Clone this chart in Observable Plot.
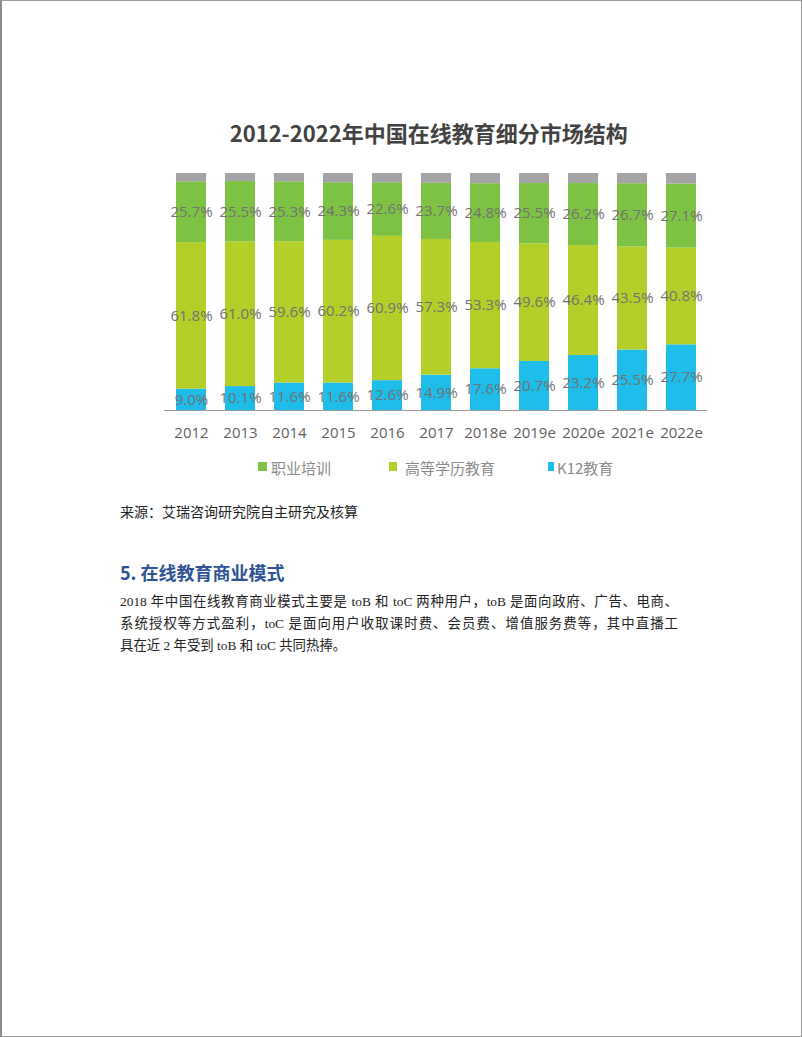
<!DOCTYPE html>
<html>
<head>
<meta charset="utf-8">
<script src="https://cdn.jsdelivr.net/npm/d3@7"></script>
<script src="https://cdn.jsdelivr.net/npm/@observablehq/plot@0.6"></script>
<style>
  html, body { margin: 0; padding: 0; background: #fff; }
  #page { position: relative; width: 802px; height: 1037px; box-sizing: border-box;
          border: 1px solid #9a9a9a; border-left: 2px solid #8a8a8a; overflow: hidden; }
  .abs { position: absolute; white-space: nowrap; }
  #title { left: 126.7px; width: 600px; top: 115px; line-height: 30px; text-align: center;
           font: bold 22px "Noto Sans CJK SC", sans-serif; color: #424242; }
  #chart { left: 148px; top: 149px; }
  .leg { top: 456px; line-height: 20px; font: 15px "Noto Sans CJK SC", "Open Sans", sans-serif; color: #8a8a8a; }
  .sw { position: absolute; top: 461px; height: 9px; }
  #source { left: 118px; top: 500px; line-height: 20px; font: 14px "Liberation Serif", "Noto Sans CJK SC", serif; color: #222; }
  #heading { left: 118px; top: 558px; line-height: 26px; font: bold 18px "Noto Sans CJK SC", sans-serif; color: #2E5395; }
  .para { left: 118px; line-height: 22px; font: 13.4px "Liberation Serif", "Noto Sans CJK SC", serif; color: #222; }
  .just { width: 558px; text-align: justify; text-align-last: justify; white-space: normal; }
</style>
</head>
<body>
<div id="page">
  <div id="title" class="abs">2012-2022年中国在线教育细分市场结构</div>
  <div id="chart" class="abs"></div>
  <div id="legend"></div>
  <div id="source" class="abs">来源：艾瑞咨询研究院自主研究及核算</div>
  <div id="heading" class="abs">5. 在线教育商业模式</div>
  <div class="abs para just" style="top:589px">2018 年中国在线教育商业模式主要是 toB 和 toC 两种用户，toB 是面向政府、广告、电商、</div>
  <div class="abs para just" style="top:611px">系统授权等方式盈利，toC 是面向用户收取课时费、会员费、增值服务费等，其中直播工</div>
  <div class="abs para" style="top:633px">具在近 2 年受到 toB 和 toC 共同热捧。</div>
</div>
<script>
const years = ["2012","2013","2014","2015","2016","2017","2018e","2019e","2020e","2021e","2022e"];
const vocational = [25.7,25.5,25.3,24.3,22.6,23.7,24.8,25.5,26.2,26.7,27.1];
const higher     = [61.8,61.0,59.6,60.2,60.9,57.3,53.3,49.6,46.4,43.5,40.8];
const k12        = [9.0,10.1,11.6,11.6,12.6,14.9,17.6,20.7,23.2,25.5,27.7];
const other      = [3.5,3.4,3.5,3.9,3.9,4.1,4.3,4.2,4.2,4.3,4.4];
const seriesNames = ["K12教育","高等学历教育","职业培训","其他"];
const seriesColors = ["#1EBDEA","#B4CF2A","#7DC243","#A4A4A6"];
const legendNames = ["职业培训","高等学历教育","K12教育"];

const data = years.flatMap((year, i) => [
  {year, series: seriesNames[0], value: k12[i]},
  {year, series: seriesNames[1], value: higher[i]},
  {year, series: seriesNames[2], value: vocational[i]},
  {year, series: seriesNames[3], value: other[i]}
]);

const chart = Plot.plot({
  width: 574, height: 300,
  marginLeft: 14, marginRight: 17, marginTop: 23, marginBottom: 40,
  style: {fontFamily: "'Open Sans', 'Noto Sans CJK SC', sans-serif", background: "transparent", overflow: "visible"},
  x: {type: "band", domain: years, paddingInner: 0.39, paddingOuter: 0.2, label: null},
  y: {domain: [0, 100], axis: null},
  color: {domain: seriesNames, range: seriesColors},
  marks: [
    Plot.barY(data, Plot.stackY({x: "year", y: "value", fill: "series", order: null})),
    Plot.text(data, Plot.stackY({x: "year", y: "value", z: "series", order: null,
      text: d => d.series === "其他" ? "" : d.value.toFixed(1) + "%",
      fill: "#717171", fontSize: 15})),
    Plot.ruleY([0], {stroke: "#9a9a9a"}),
    Plot.axisX({tickSize: 0, tickPadding: 17, fontSize: 15, color: "#5f5f5f", label: null})
  ]
});
document.getElementById("chart").appendChild(chart);

// legend
const legendPos = [{sw: 256, w: 9, tx: 269}, {sw: 387, w: 8, tx: 403}, {sw: 546, w: 6, tx: 555}];
const legend = document.getElementById("legend");
legendNames.forEach((name, i) => {
  const p = legendPos[i];
  const sw = document.createElement("div");
  sw.className = "sw";
  sw.style.left = p.sw + "px";
  sw.style.width = p.w + "px";
  sw.style.background = seriesColors[seriesNames.indexOf(name)];
  legend.appendChild(sw);
  const t = document.createElement("div");
  t.className = "abs leg";
  t.style.left = p.tx + "px";
  t.textContent = name;
  legend.appendChild(t);
});
</script>
</body>
</html>
